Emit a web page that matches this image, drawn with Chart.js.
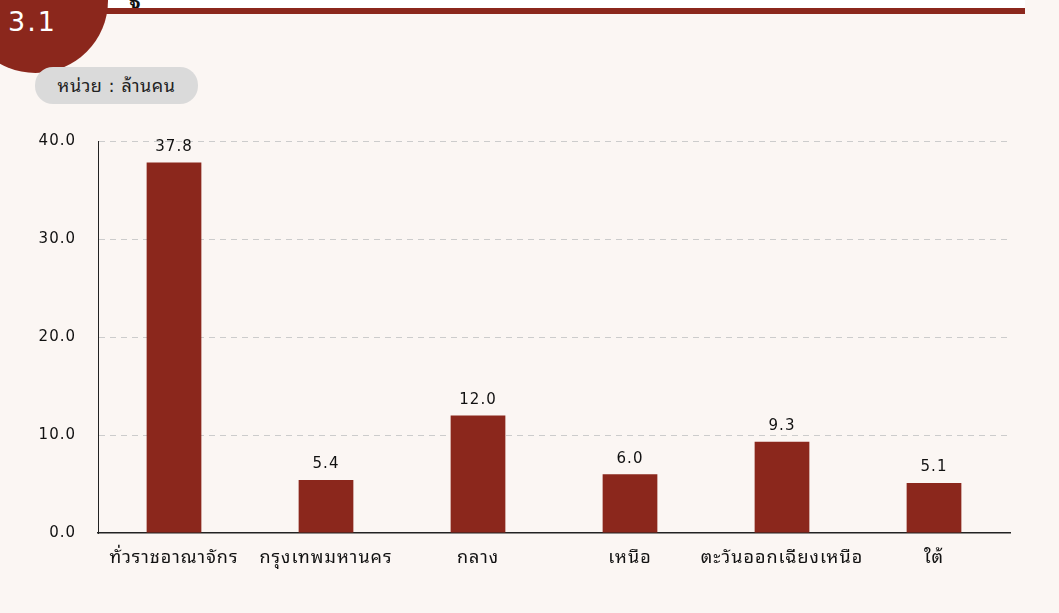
<!DOCTYPE html>
<html>
<head>
<meta charset="utf-8">
<script src="https://cdn.jsdelivr.net/npm/chart.js@4/dist/chart.umd.min.js"></script>
<style>
  body { margin: 0; width: 1059px; height: 613px; background: #fbf6f3; position: relative; overflow: hidden;
         font-family: "DejaVu Sans", "Noto Sans Thai Looped", "Noto Serif Thai", sans-serif; }
  #band { position: absolute; left: 105px; top: 0; width: 920px; height: 8px; background: #ffffff; overflow: hidden; }
  #band span { position: absolute; left: 24px; top: -16px; font-size: 20px; font-weight: bold; color: #111; }
  #rule { position: absolute; left: 60px; top: 8px; width: 965px; height: 6px; background: #8b271c; }
  #badge { position: absolute; left: -37px; top: -72px; width: 145px; height: 145px; border-radius: 50%; background: #8b271c; }
  #num { position: absolute; left: 8px; top: 6px; font-size: 27px; color: #fff; letter-spacing: 2px; }
  #unit { position: absolute; left: 35px; top: 67px; width: 163px; height: 37px; border-radius: 18px; background: #dadada;
          font-size: 18px; color: #222; line-height: 37px; text-align: center; letter-spacing: 0.5px; }
  #wrap { position: absolute; left: 0; top: 110px; width: 1059px; height: 473px; }
</style>
</head>
<body>
<div id="band"><span>ฐ</span></div>
<div id="rule"></div>
<div id="badge"></div>
<div id="num">3.1</div>
<div id="unit">หน่วย : ล้านคน</div>
<div id="wrap"><canvas id="myChart"></canvas></div>
<script>
var regions = ["ทั่วราชอาณาจักร", "กรุงเทพมหานคร", "กลาง", "เหนือ", "ตะวันออกเฉียงเหนือ", "ใต้"];
var people = [37.8, 5.4, 12.0, 6.0, 9.3, 5.1];
var yTicks = [0, 10, 20, 30, 40];

var barColor = "#8b271c";
var fontList = "'DejaVu Sans', 'Noto Sans Thai Looped', 'Noto Serif Thai', sans-serif";

// value labels above each bar
var valueLabels = {
  id: "valueLabels",
  beforeDraw: function (chart) {
    chart.ctx.letterSpacing = "1px";
  },
  afterDatasetsDraw: function (chart) {
    var ctx = chart.ctx;
    var meta = chart.getDatasetMeta(0);
    ctx.save();
    ctx.font = "15px " + fontList;
    ctx.fillStyle = "#111";
    ctx.textAlign = "center";
    ctx.textBaseline = "bottom";
    meta.data.forEach(function (bar, i) {
      ctx.fillText(people[i].toFixed(1), bar.x, bar.y - 8);
    });
    ctx.restore();
  }
};

document.addEventListener("DOMContentLoaded", function () {
  var ctx = document.getElementById("myChart").getContext("2d");
  new Chart(ctx, {
    type: "bar",
    data: {
      labels: regions,
      datasets: [{
        data: people,
        backgroundColor: barColor,
        barPercentage: 0.36,
        categoryPercentage: 1
      }]
    },
    options: {
      responsive: true,
      maintainAspectRatio: false,
      animation: false,
      font: { family: fontList },
      layout: { padding: { top: 11, right: 49, left: 0, bottom: 0 } },
      plugins: { legend: { display: false }, tooltip: { enabled: false } },
      scales: {
        x: {
          grid: { display: false },
          border: { color: "#222", width: 1.5 },
          ticks: { color: "#111", font: { size: 18, family: fontList }, padding: 7, maxRotation: 0, autoSkip: false },
          afterFit: function (s) { s.height = 50; }
        },
        y: {
          min: 0,
          max: 40,
          afterBuildTicks: function (s) { s.ticks = yTicks.map(function (v) { return { value: v }; }); },
          afterFit: function (s) { s.width = 98; },
          border: { color: "#222", width: 1, dash: [6, 5] },
          grid: {
            drawTicks: false,
            color: function (c) { return c.tick.value === 0 ? "transparent" : "#cccccc"; },
            lineWidth: 1
          },
          ticks: {
            color: "#111",
            font: { size: 15, family: fontList },
            padding: 22,
            callback: function (v) { return Number(v).toFixed(1); }
          }
        }
      }
    },
    plugins: [valueLabels]
  });
});
</script>
</body>
</html>
